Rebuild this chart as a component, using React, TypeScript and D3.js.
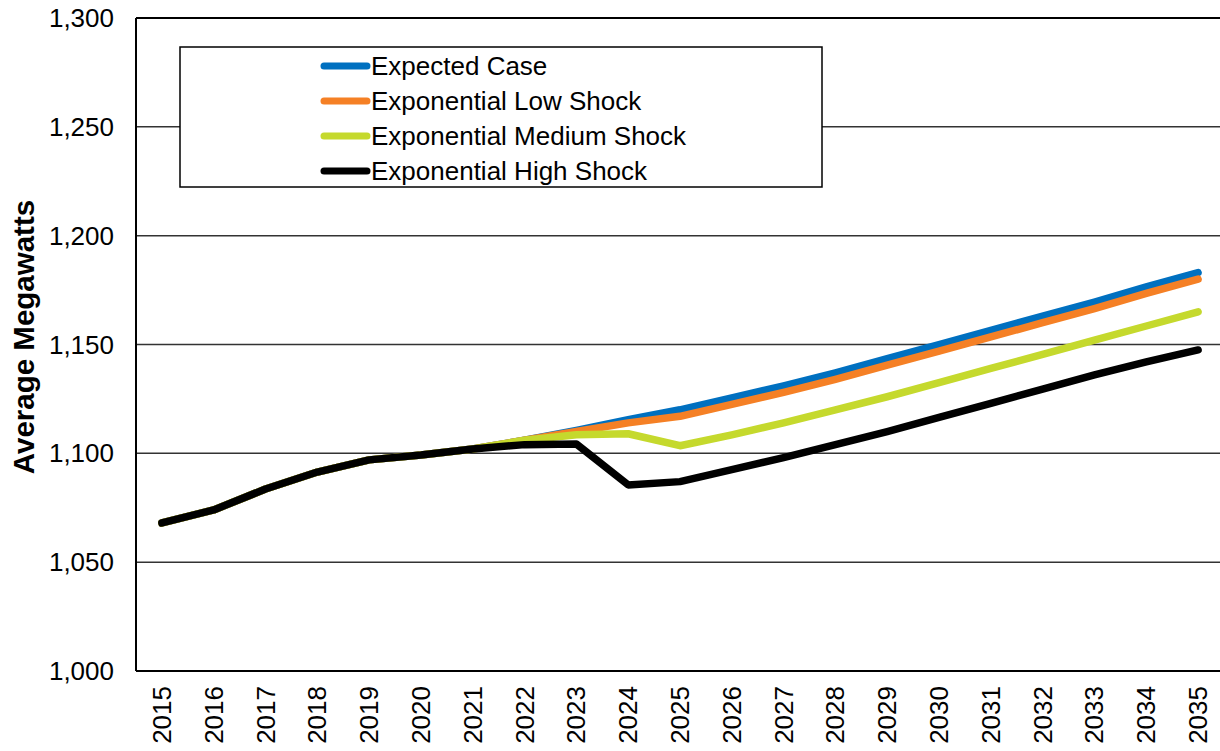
import React from "react";
import * as d3 from "d3";

const years = ["2015","2016","2017","2018","2019","2020","2021","2022","2023","2024","2025","2026","2027","2028","2029","2030","2031","2032","2033","2034","2035"];
const common = [1068, 1074, 1083.6, 1091.4, 1097, 1099.2, 1102];
const expectedCase = [...common, 1106, 1110.5, 1115.5, 1120, 1125.5, 1131, 1137, 1143.5, 1150, 1156.5, 1163, 1169.5, 1176.5, 1183];
const lowShock = [...common, 1106, 1110, 1114, 1117, 1122.5, 1128, 1134, 1140.5, 1147, 1153.5, 1160, 1166.5, 1173.5, 1180];
const mediumShock = [...common, 1106, 1108.5, 1109, 1103.5, 1108.5, 1114, 1120, 1126, 1132.5, 1139, 1145.5, 1152, 1158.5, 1165];
const highShock = [...common, 1104, 1104.3, 1085.5, 1087, 1092.5, 1098, 1104, 1110, 1116.5, 1123, 1129.5, 1136, 1142, 1147.5];
const yTicks = [1000, 1050, 1100, 1150, 1200, 1250, 1300];

const series = [
  { name: "Expected Case", values: expectedCase, color: "#0070C0" },
  { name: "Exponential Low Shock", values: lowShock, color: "#F58025" },
  { name: "Exponential Medium Shock", values: mediumShock, color: "#C5D92D" },
  { name: "Exponential High Shock", values: highShock, color: "#000000" },
];

const W = 1220, H = 751;
const left = 136, top = 18, bottom = 671, right = 1224;
const font = "'Liberation Sans', Arial, sans-serif";

export default function App() {
  const x = d3.scaleBand<string>().domain(years).range([left, right]);
  const cx = (d: string) => (x(d) as number) + x.bandwidth() / 2;
  const y = d3.scaleLinear().domain([1000, 1300]).range([bottom, top]);
  const fmt = d3.format(",");
  const line = (vals: number[]) =>
    d3.line<number>().x((_, i) => cx(years[i])).y((v) => y(v))(vals) as string;

  const legendRows = [66, 101, 136, 171];

  return (
    <svg width={W} height={H} style={{ position: "absolute", left: 0, top: 0, background: "#fff" }} fontFamily={font}>
      <rect x={0} y={0} width={W} height={H} fill="#fff" />
      {yTicks.filter((t) => t !== 1000).map((t) => (
        <line key={t} x1={left} x2={W} y1={y(t)} y2={y(t)} stroke={t === 1300 ? "#000" : "#333"} strokeWidth={t === 1300 ? 2 : 1.5} />
      ))}
      {yTicks.map((t) => (
        <text key={t} x={114} y={y(t)} textAnchor="end" dominantBaseline="central" fontSize={26} fill="#000">{fmt(t)}</text>
      ))}
      {years.map((yr) => (
        <text key={yr} transform={`translate(${cx(yr)},686) rotate(-90)`} textAnchor="end" dominantBaseline="central" fontSize={26} fill="#000">{yr}</text>
      ))}
      <text transform={`translate(23,337) rotate(-90)`} textAnchor="middle" dominantBaseline="central" fontSize={29.5} fontWeight="bold" fill="#000">Average Megawatts</text>
      {series.map((s) => (
        <path key={s.name} d={line(s.values)} fill="none" stroke={s.color} strokeWidth={7.5} strokeLinejoin="round" strokeLinecap="round" />
      ))}
      <line x1={left} x2={left} y1={top} y2={bottom} stroke="#000" strokeWidth={2} />
      <line x1={left} x2={W} y1={bottom} y2={bottom} stroke="#000" strokeWidth={2} />
      <rect x={180} y={47} width={642} height={140} fill="#fff" stroke="#000" strokeWidth={1.5} />
      {series.map((s, i) => (
        <g key={s.name}>
          <line x1={324} x2={367} y1={legendRows[i]} y2={legendRows[i]} stroke={s.color} strokeWidth={7} strokeLinecap="round" />
          <text x={371} y={legendRows[i]} dominantBaseline="central" fontSize={26} fill="#000">{s.name}</text>
        </g>
      ))}
    </svg>
  );
}
